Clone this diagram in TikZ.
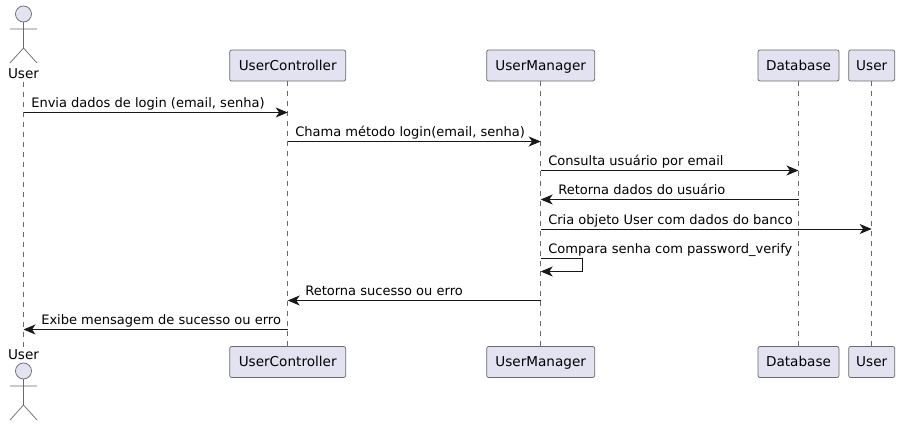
\documentclass[tikz,border=0pt]{standalone}
\usepackage{fontspec}
\setmainfont{DejaVu Sans}
\usetikzlibrary{arrows.meta}
\definecolor{partfill}{HTML}{E2E2F0}
\definecolor{partline}{HTML}{6A6A6A}
\definecolor{msgline}{HTML}{181818}
\tikzset{
  part/.style={draw=partline, fill=partfill, rounded corners=1.5pt, line width=0.55pt, minimum height=23.25pt, inner sep=0pt, text height=8pt, text depth=0.6pt, font=\fontsize{10.2pt}{12pt}\selectfont},
  actorname/.style={inner sep=0pt, anchor=base, font=\fontsize{10.2pt}{12pt}\selectfont},
  msgtext/.style={inner sep=0pt, anchor=base west, text=black, font=\fontsize{9.77pt}{12pt}\selectfont},
  msg/.style={draw=msgline, line width=0.7pt, -{Stealth[length=9pt, width=7.5pt, inset=2.6pt]}},
  life/.style={draw=partline, line width=0.5pt, dash pattern=on 3.75pt off 3.75pt},
  stickman/.pic={
    \draw[partline, line width=0.55pt, fill=partfill] (0,14) circle (8);
    \draw[partline, line width=0.55pt] (0,22) -- (0,48) (-13.5,29) -- (13.5,29) (-13.5,63) -- (0,48) -- (13.5,63);
  }
}
\begin{document}
\begin{tikzpicture}[x=0.75pt, y=-0.75pt]
\useasboundingbox (0,0) rectangle (900,427);
% top row
\pic at (23.5,0) {stickman};
\node[actorname] (actortop) at (23.5,78.5) {User};
\node[part, minimum width=87pt] (ctrltop) at (287.7,65.5) {UserController};
\node[part, minimum width=81pt] (mgrtop) at (540.7,65.5) {UserManager};
\node[part, minimum width=60.75pt] (dbtop) at (798.5,65.5) {Database};
\node[part, minimum width=34.5pt] (objtop) at (871.7,65.5) {User};
% bottom row
\node[actorname] (actorbot) at (23.5,359.5) {User};
\pic at (23.5,357) {stickman};
\node[part, minimum width=87pt] (ctrlbot) at (287.7,362) {UserController};
\node[part, minimum width=81pt] (mgrbot) at (540.7,362) {UserManager};
\node[part, minimum width=60.75pt] (dbbot) at (798.5,362) {Database};
\node[part, minimum width=34.5pt] (objbot) at (871.7,362) {User};
% lifelines
\draw[life] (actortop.south) ++(0,3) -- (actorbot.north);
\draw[life] (ctrltop) -- (ctrlbot);
\draw[life] (mgrtop) -- (mgrbot);
\draw[life] (dbtop) -- (dbbot);
\draw[life] (objtop) -- (objbot);
% messages
\coordinate (m1) at (0,112.5);
\coordinate (m2) at (0,141.5);
\coordinate (m3) at (0,170.5);
\coordinate (m4) at (0,199.5);
\coordinate (m5) at (0,229);
\coordinate (m6) at (0,258);
\coordinate (m7) at (0,271.5);
\coordinate (m8) at (0,300.5);
\coordinate (m9) at (0,329.5);
\coordinate (selfturn) at (582.5,0);
\draw[msg] (actortop |- m1) -- (ctrltop |- m1);
\draw[msg] (ctrltop |- m2) -- (mgrtop |- m2);
\draw[msg] (mgrtop |- m3) -- (dbtop |- m3);
\draw[msg] (dbtop |- m4) -- (mgrtop |- m4);
\draw[msg] (mgrtop |- m5) -- (objtop |- m5);
\draw[msg] (mgrtop |- m6) -- (selfturn |- m6) -- (selfturn |- m7) -- (mgrtop |- m7);
\draw[msg] (mgrtop |- m8) -- (ctrltop |- m8);
\draw[msg] (ctrltop |- m9) -- (actortop |- m9);
% labels
\node[msgtext] (t1) at (31,108) {Envia dados de login (email, senha)};
\node[msgtext] (t2) at (295,137) {Chama método login(email, senha)};
\node[msgtext] (t3) at (548,166) {Consulta usuário por email};
\node[msgtext] (t4) at (558,195) {Retorna dados do usuário};
\node[msgtext] (t5) at (548,225) {Cria objeto User com dados do banco};
\node[msgtext] (t6) at (548,254) {Compara senha com password\_verify};
\node[msgtext] (t7) at (305,296) {Retorna sucesso ou erro};
\node[msgtext] (t8) at (41,325) {Exibe mensagem de sucesso ou erro};
\end{tikzpicture}
\end{document}
